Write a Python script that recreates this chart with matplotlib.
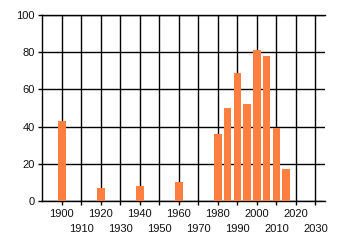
import matplotlib
matplotlib.use("Agg")
import matplotlib.pyplot as plt

years = [1900, 1920, 1940, 1960, 1980, 1985, 1990, 1995, 2000, 2005, 2010, 2015]
values = [43, 7, 8, 10, 36, 50, 69, 52, 81, 78, 39, 17]
major_ticks = [1900, 1920, 1940, 1960, 1980, 2000, 2020]
minor_ticks = [1910, 1930, 1950, 1970, 1990, 2010, 2030]
y_ticks = [0, 20, 40, 60, 80, 100]

plt.rcParams['font.family'] = ['Liberation Sans', 'DejaVu Sans']

fig = plt.figure(figsize=(3.4, 2.45), dpi=100)
ax = fig.add_axes([42 / 340, 1 - 201 / 245, (324.7 - 42) / 340, (201 - 15) / 245])

ax.bar(years, values, width=3.8, color='#FF7F40', zorder=3)

ax.set_xlim(1889.8, 2034.8)
ax.set_ylim(0, 100)
ax.set_yticks(y_ticks)
ax.set_xticks(major_ticks)
ax.set_xticks(minor_ticks, minor=True)
ax.set_xticklabels([str(t) for t in major_ticks])
ax.set_xticklabels([str(t) for t in minor_ticks], minor=True)

ax.grid(True, which='both', color='black', linewidth=1.0, zorder=1)
ax.set_axisbelow(True)

for s in ['left', 'bottom', 'top']:
    ax.spines[s].set_color('black')
    ax.spines[s].set_linewidth(1.0)
ax.spines['right'].set_visible(False)

ax.tick_params(axis='both', which='both', length=3, width=1.0, color='black',
               labelsize=8, labelcolor='#111111')
ax.tick_params(axis='x', which='major', pad=3)
ax.tick_params(axis='x', which='minor', pad=13.5)
ax.tick_params(axis='y', pad=2)

fig.savefig('out.png', dpi=100)
